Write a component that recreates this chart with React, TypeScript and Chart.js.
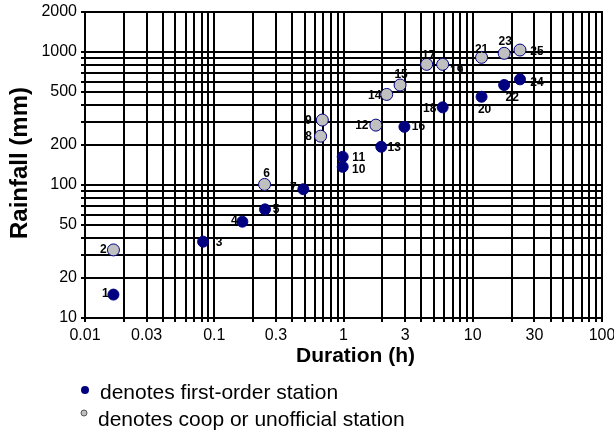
import React, { useEffect, useRef } from "react";
import { Chart, registerables } from "chart.js";

Chart.register(...registerables);

// ---- data ----
const stationIds = [1, 2, 3, 4, 5, 6, 7, 8, 9, 10, 11, 12, 13, 14, 15, 16, 17, 18, 19, 20, 21, 22, 23, 24, 25];
const durationH = [0.0166, 0.0166, 0.082, 0.165, 0.247, 0.245, 0.489, 0.665, 0.686, 0.986, 0.986, 1.78, 1.96, 2.16, 2.74, 2.96, 4.4, 5.85, 5.85, 11.7, 11.7, 17.5, 17.5, 23.2, 23.2];
const rainfallMm = [15, 32.5, 37.5, 53, 65.6, 101, 93, 233, 308, 137, 163, 282, 194, 480, 565, 274, 808, 384, 808, 461, 912, 565, 978, 623, 1035];
// F = first-order station, C = coop or unofficial station
const stationType = ["F", "C", "F", "F", "F", "C", "F", "C", "C", "F", "F", "C", "F", "C", "C", "F", "C", "F", "C", "F", "C", "F", "C", "F", "C"];

const xGridValues = [0.01, 0.02, 0.03, 0.04, 0.05, 0.06, 0.07, 0.08, 0.09, 0.1, 0.2, 0.3, 0.4, 0.5, 0.6, 0.7, 0.8, 0.9, 1, 2, 3, 4, 5, 6, 7, 8, 9, 10, 20, 30, 40, 50, 60, 70, 80, 90, 100];
const xTickLabels = [0.01, 0.03, 0.1, 0.3, 1, 3, 10, 30, 100];
const yGridValues = [10, 20, 30, 40, 50, 60, 70, 80, 90, 100, 200, 300, 400, 500, 600, 700, 800, 900, 1000, 2000];
const yTickLabels = [10, 20, 50, 100, 200, 500, 1000, 2000];

const xTitle = "Duration (h)";
const yTitle = "Rainfall (mm)";
const legendFirst = "denotes first-order station";
const legendCoop = "denotes coop or unofficial station";

// label placement offsets (dx, dy) relative to each point, in pixels (styling)
const labelOffsets: [number, number][] = [
  [-8, -1], [-10, 0], [16, 1], [-8, -1], [11, 0], [2, -11], [-10, -2], [-12, 1], [-14, 1], [16, 3],
  [16, 1], [-14, 1], [13, 1], [-12, 1], [1, -10], [14, 0], [2, -9], [-13, 1], [14, 6], [3, 13],
  [0, -8], [8, 13], [1, -12], [17, 3], [17, 2],
];

const NAVY = "#000080";
const GRAY = "#c0c0c0";
const FONT = "Arial, 'Liberation Sans', Helvetica, sans-serif";

function fmt(v: number) {
  return String(v);
}

export default function App() {
  const ref = useRef<HTMLCanvasElement | null>(null);

  useEffect(() => {
    const canvas = ref.current;
    if (!canvas) return;

    const first: any[] = [];
    const coop: any[] = [];
    stationIds.forEach((id, i) => {
      const pt = { x: durationH[i], y: rainfallMm[i], id, idx: i };
      if (stationType[i] === "F") first.push(pt);
      else coop.push(pt);
    });

    const textPlugin = {
      id: "textPlugin",
      afterDatasetsDraw(chart: any) {
        const ctx = chart.ctx;
        const area = chart.chartArea;
        ctx.save();
        // frame
        ctx.strokeStyle = "#000";
        ctx.lineWidth = 2;
        ctx.strokeRect(area.left, area.top, area.right - area.left, area.bottom - area.top);

        // point labels
        ctx.fillStyle = "#000";
        ctx.font = `bold 12px ${FONT}`;
        ctx.textAlign = "center";
        ctx.textBaseline = "middle";
        chart.data.datasets.forEach((ds: any, di: number) => {
          const meta = chart.getDatasetMeta(di);
          ds.data.forEach((p: any, j: number) => {
            const el = meta.data[j];
            const off = labelOffsets[p.idx];
            ctx.fillText(String(p.id), el.x + off[0], el.y + off[1]);
          });
        });

        // axis titles
        ctx.font = `bold 21px ${FONT}`;
        ctx.fillText(xTitle, (area.left + area.right) / 2 + 12, 356);
        ctx.save();
        ctx.translate(20, 163);
        ctx.rotate(-Math.PI / 2);
        ctx.font = `bold 24px ${FONT}`;
        ctx.fillText(yTitle, 0, 0);
        ctx.restore();

        // legend
        ctx.beginPath();
        ctx.arc(85, 390, 4, 0, Math.PI * 2);
        ctx.fillStyle = NAVY;
        ctx.fill();
        ctx.beginPath();
        ctx.arc(84, 413, 3, 0, Math.PI * 2);
        ctx.fillStyle = GRAY;
        ctx.fill();
        ctx.strokeStyle = "#555";
        ctx.lineWidth = 1;
        ctx.stroke();

        ctx.fillStyle = "#000";
        ctx.font = `21px ${FONT}`;
        ctx.textAlign = "left";
        ctx.fillText(legendFirst, 100, 393);
        ctx.fillText(legendCoop, 98, 420);
        ctx.restore();
      },
    };

    const chart = new Chart(canvas, {
      type: "scatter",
      data: {
        datasets: [
          {
            label: "first-order",
            data: first,
            backgroundColor: NAVY,
            borderColor: NAVY,
            borderWidth: 1,
            pointRadius: 5.5,
          },
          {
            label: "coop",
            data: coop,
            backgroundColor: GRAY,
            borderColor: NAVY,
            borderWidth: 1,
            pointRadius: 6,
          },
        ],
      },
      options: {
        responsive: false,
        animation: false,
        devicePixelRatio: 1,
        layout: { padding: { left: 0, top: 12, right: 12, bottom: 0 } },
        plugins: {
          legend: { display: false },
          tooltip: { enabled: false },
          title: { display: false },
        },
        scales: {
          x: {
            type: "logarithmic",
            min: 0.01,
            max: 100,
            afterBuildTicks: (scale: any) => {
              scale.ticks = xGridValues.map((v) => ({ value: v }));
            },
            afterFit: (scale: any) => {
              scale.height = 118;
              scale.paddingLeft = 0;
              scale.paddingRight = 0;
            },
            ticks: {
              autoSkip: false,
              maxRotation: 0,
              minRotation: 0,
              padding: 4,
              color: "#000",
              font: { family: FONT, size: 16 },
              callback: (v: any) => (xTickLabels.includes(Number(v)) ? fmt(Number(v)) : ""),
            },
            grid: { color: "#000", lineWidth: 2, drawTicks: true, tickLength: 4, tickColor: "#000" },
            border: { display: true, color: "#000", width: 2 },
          },
          y: {
            type: "logarithmic",
            min: 10,
            max: 2000,
            afterBuildTicks: (scale: any) => {
              scale.ticks = yGridValues.map((v) => ({ value: v }));
            },
            afterFit: (scale: any) => {
              scale.width = 85;
              scale.paddingTop = 0;
              scale.paddingBottom = 0;
            },
            ticks: {
              autoSkip: false,
              padding: 4,
              color: "#000",
              font: { family: FONT, size: 16 },
              callback: (v: any) => (yTickLabels.includes(Number(v)) ? fmt(Number(v)) : ""),
            },
            grid: { color: "#000", lineWidth: 2, drawTicks: true, tickLength: 4, tickColor: "#000" },
            border: { display: true, color: "#000", width: 2 },
          },
        },
      },
      plugins: [textPlugin],
    } as any);

    return () => chart.destroy();
  }, []);

  return (
    <div style={{ position: "absolute", left: 0, top: 0, width: 614, height: 436, background: "#fff" }}>
      <canvas ref={ref} width={614} height={436} style={{ width: 614, height: 436, display: "block" }} />
    </div>
  );
}
